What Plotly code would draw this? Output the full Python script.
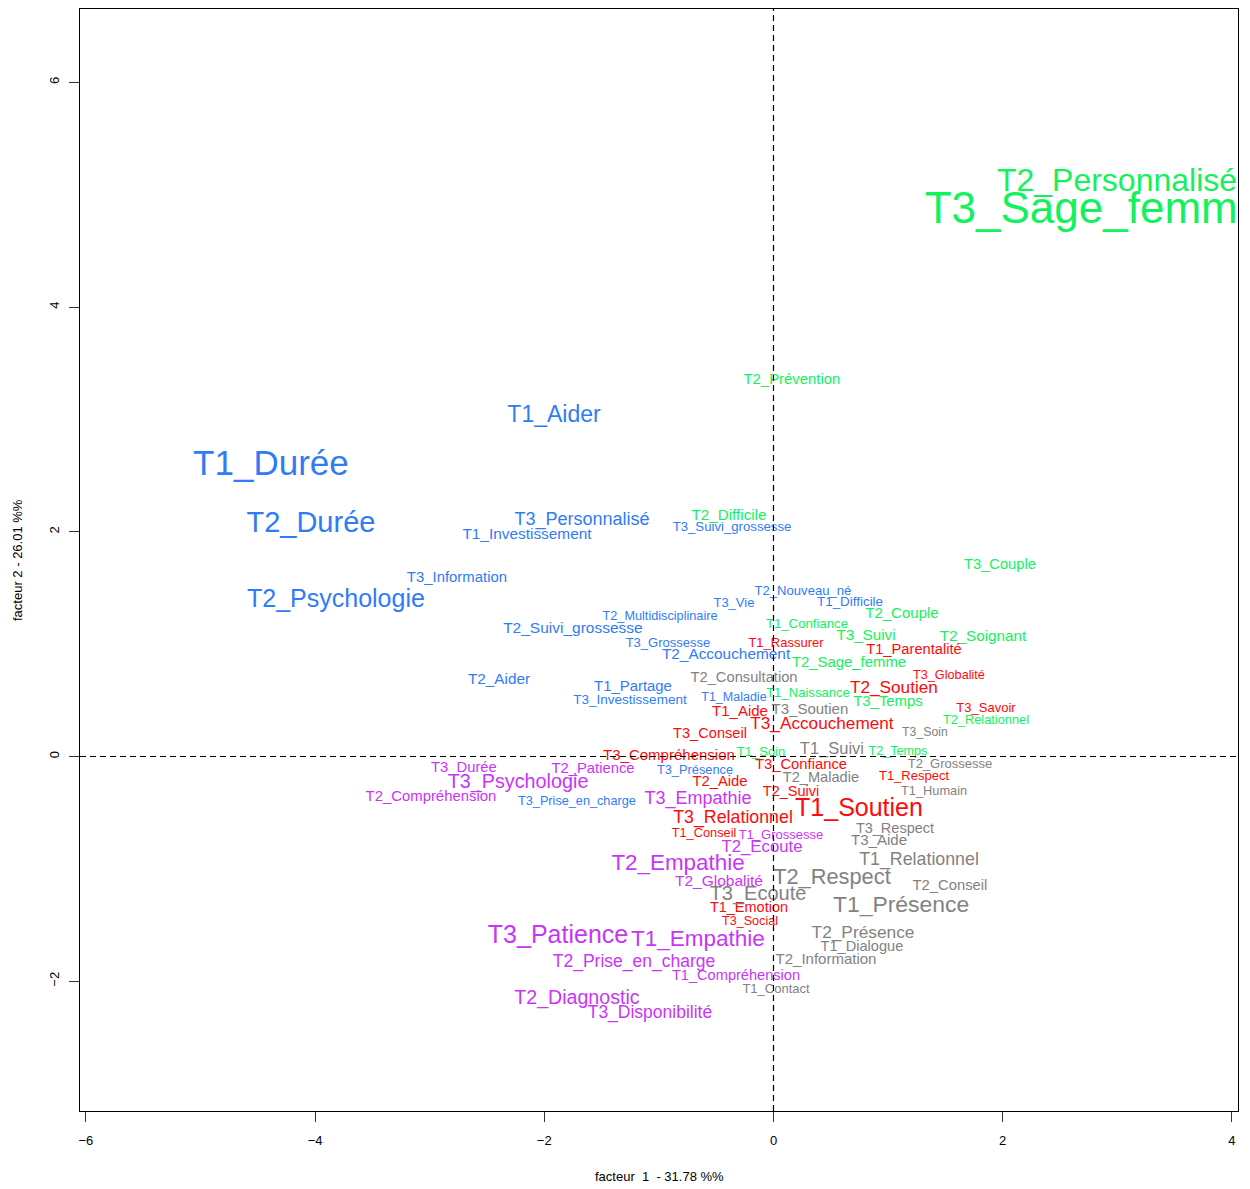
import plotly.graph_objects as go

# ---- data (factor coordinates, label sizes in px, group) ----
blue_labels = ["T1_Aider", "T1_Durée", "T2_Durée", "T2_Psychologie", "T3_Personnalisé",
               "T1_Investissement", "T3_Suivi_grossesse", "T3_Information", "T2_Nouveau_né",
               "T3_Vie", "T1_Difficile", "T2_Multidisciplinaire", "T2_Suivi_grossesse",
               "T3_Grossesse", "T2_Accouchement", "T2_Aider", "T1_Partage",
               "T3_Investissement", "T1_Maladie", "T3_Présence", "T3_Prise_en_charge"]
blue_f1 = [-1.915, -4.385, -4.036, -3.818, -1.671, -2.151, -0.362, -2.762, 0.257,
           -0.345, 0.668, -0.990, -1.750, -0.921, -0.414, -2.395, -1.226,
           -1.252, -0.345, -0.685, -1.715]
blue_f2 = [3.030, 2.580, 2.060, 1.385, 2.103, 1.970, 2.032, 1.586, 1.471,
           1.364, 1.373, 1.239, 1.132, 1.007, 0.900, 0.677, 0.615,
           0.499, 0.526, -0.125, -0.401]
blue_size = [23, 35, 29, 25, 18, 15.4, 13.2, 14.9, 13.1, 13, 13.4, 12.7, 15.5,
             13, 15.4, 15.3, 14.9, 13.5, 12.5, 12.8, 12.7]

green_labels = ["T2_Personnalisé", "T3_Sage_femme", "T2_Prévention", "T2_Difficile",
                "T3_Couple", "T2_Couple", "T1_Confiance", "T3_Suivi", "T2_Soignant",
                "T2_Sage_femme", "T1_Naissance", "T3_Temps", "T2_Relationnel",
                "T1_Soin", "T2_Temps"]
green_f1 = [2.997, 2.792, 0.161, -0.388, 1.976, 1.121, 0.292, 0.807, 1.828,
            0.659, 0.301, 0.999, 1.854, -0.109, 1.086]
green_f2 = [5.105, 4.850, 3.351, 2.139, 1.702, 1.266, 1.176, 1.070, 1.061,
            0.829, 0.561, 0.481, 0.321, 0.036, 0.045]
green_size = [32, 44, 14.9, 15.2, 14.7, 15, 13.2, 15.2, 15.3, 14.9, 13.1, 14.9,
              12.8, 13, 12.6]

red_labels = ["T1_Rassurer", "T1_Parentalité", "T3_Globalité", "T2_Soutien", "T3_Savoir",
              "T1_Aide", "T3_Accouchement", "T3_Conseil", "T3_Compréhension",
              "T3_Confiance", "T2_Aide", "T1_Respect", "T2_Suivi", "T1_Soutien",
              "T3_Relationnel", "T1_Conseil", "T1_Emotion", "T3_Social"]
red_f1 = [0.109, 1.226, 1.531, 1.051, 1.854, -0.292, 0.423, -0.554, -0.912,
          0.240, -0.467, 1.226, 0.153, 0.746, -0.353, -0.606, -0.214, -0.205]
red_f2 = [1.007, 0.945, 0.722, 0.606, 0.428, 0.392, 0.285, 0.196, 0.005,
          -0.080, -0.232, -0.178, -0.321, -0.475, -0.553, -0.686, -1.355, -1.471]
red_size = [13, 14.7, 12.7, 17.2, 13, 15, 17.2, 14.6, 15, 14.8, 14.8, 13, 14.5,
            25, 17.8, 12.8, 14.5, 12.6]

mag_labels = ["T3_Durée", "T2_Patience", "T3_Psychologie", "T2_Compréhension",
              "T3_Empathie", "T1_Grossesse", "T2_Ecoute", "T2_Empathie", "T2_Globalité",
              "T3_Patience", "T1_Empathie", "T2_Prise_en_charge", "T1_Compréhension",
              "T2_Diagnostic", "T3_Disponibilité"]
mag_f1 = [-2.701, -1.575, -2.229, -2.989, -0.659, 0.065, -0.100, -0.833, -0.476,
          -1.880, -0.659, -1.217, -0.327, -1.715, -1.078]
mag_f2 = [-0.107, -0.116, -0.232, -0.365, -0.383, -0.704, -0.811, -0.960, -1.114,
          -1.605, -1.632, -1.836, -1.961, -2.157, -2.291]
mag_size = [14.8, 14.8, 19.8, 14.9, 18, 13, 16.8, 22.4, 15.5, 25, 22.5, 17.5,
            14.6, 19.6, 17.5]

gray_labels = ["T2_Consultation", "T3_Soutien", "T3_Soin", "T1_Suivi", "T2_Grossesse",
               "T2_Maladie", "T1_Humain", "T3_Respect", "T3_Aide", "T1_Relationnel",
               "T2_Respect", "T3_Ecoute", "T2_Conseil", "T1_Présence", "T2_Présence",
               "T1_Dialogue", "T2_Information", "T1_Contact"]
gray_f1 = [-0.257, 0.318, 1.322, 0.510, 1.540, 0.414, 1.401, 1.060, 0.921, 1.270,
           0.510, -0.135, 1.540, 1.113, 0.781, 0.772, 0.458, 0.022]
gray_f2 = [0.695, 0.410, 0.214, 0.062, -0.071, -0.196, -0.312, -0.651, -0.758, -0.927,
           -1.088, -1.236, -1.159, -1.329, -1.578, -1.702, -1.809, -2.077]
gray_size = [14.7, 15, 12.3, 16.5, 13, 14.6, 12.8, 14.5, 15, 17.8, 21.8, 20, 14.8,
             22.9, 17.3, 14.6, 15, 13]

x_ticks = [-6, -4, -2, 0, 2, 4]
y_ticks = [-2, 0, 2, 4, 6]
x_title = "facteur  1  - 31.78 %%"
y_title = "facteur 2 - 26.01 %%"

FONT = "Liberation Sans, Arial, sans-serif"

groups = [
    (blue_labels, blue_f1, blue_f2, blue_size, "#2F7CF6"),
    (green_labels, green_f1, green_f2, green_size, "#12F25C"),
    (red_labels, red_f1, red_f2, red_size, "#FF0A0A"),
    (mag_labels, mag_f1, mag_f2, mag_size, "#C935F7"),
    (gray_labels, gray_f1, gray_f2, gray_size, "#828282"),
]

fig = go.Figure()
for labs, xs, ys, sz, col in groups:
    fig.add_trace(go.Scatter(
        x=xs, y=ys, text=labs, mode="text", textposition="middle center",
        textfont=dict(family=FONT, size=sz, color=col),
        cliponaxis=True, hoverinfo="text", showlegend=False))

# dashed reference lines
fig.add_hline(y=0, line=dict(color="black", width=1.2, dash="6px,4px"))
fig.add_vline(x=0, line=dict(color="black", width=1.2, dash="6px,4px"))

axis_common = dict(showgrid=False, zeroline=False, showline=True, mirror=True,
                   linecolor="black", linewidth=1, ticks="outside", ticklen=10,
                   tickcolor="#333333", tickwidth=1,
                   tickfont=dict(family=FONT, size=13, color="black"))

fig.update_xaxes(range=[-6.051, 4.053], tickvals=x_ticks, ticklabelstandoff=7,
                 **axis_common)
fig.update_yaxes(range=[-3.155, 6.653], tickvals=y_ticks, tickangle=-90,
                 ticklabelstandoff=5, **axis_common)

fig.add_annotation(text=x_title, xref="paper", yref="paper", x=0.5, y=-0.059,
                   xanchor="center", yanchor="middle", showarrow=False,
                   font=dict(family=FONT, size=13, color="black"))
fig.add_annotation(text=y_title, xref="paper", yref="paper", x=-0.0544, y=0.5,
                   xanchor="center", yanchor="middle", textangle=-90, showarrow=False,
                   font=dict(family=FONT, size=13, color="black"))

fig.update_layout(width=1234, height=1173, plot_bgcolor="white", paper_bgcolor="white",
                  margin=dict(l=72, r=4, t=1, b=70, pad=0))

fig.write_html("out.html")
